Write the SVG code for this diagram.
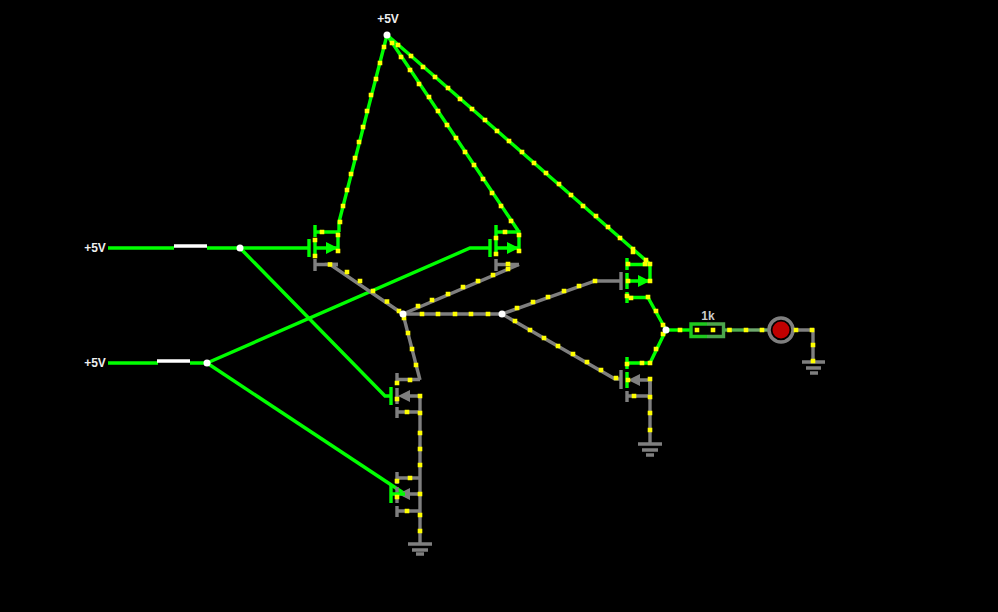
<svg xmlns="http://www.w3.org/2000/svg" width="998" height="612" viewBox="0 0 998 612">
<style>
text{font-family:"Liberation Sans",Arial,sans-serif;font-weight:bold;font-size:12px;fill:#eee;text-anchor:middle}
path,polyline,line{fill:none;stroke-width:3.4}
.g{stroke:#0f0}.k{stroke:#7f7f7f}.w{stroke:#fff}
.ag{fill:#0f0;stroke:none}.ak{fill:#7f7f7f;stroke:none}
.j{fill:#fff}
#dots{stroke:#ff0;stroke-width:4.600;stroke-linecap:square}
</style>
<rect width="998" height="612" fill="#000"/>
<g id="connectors">
<path class="g" d="M108 248H174M207 248H309"/>
<path class="g" d="M108 363H158M190 363H207"/>
<path class="g" d="M240 248L385 396H391"/>
<path class="g" d="M207 363L405 494"/>
<path class="g" d="M207 363L470 248H490"/>
<path class="g" d="M387 35L339 222V232"/>
<path class="g" d="M387 35L511 220L519 232"/>
<path class="g" d="M387 35L634 250L650 264"/>
<path class="k" d="M338 264.500H330L403 314"/>
<path class="k" d="M519 264.500L403 314"/>
<path class="k" d="M403 314H502"/>
<path class="k" d="M403 314L420 380"/>
<path class="k" d="M502 314L595 281H621"/>
<path class="k" d="M502 314L615 379H621"/>
<path class="g" d="M648 297.500L666 330L650 363"/>
<path class="g" d="M666 330H691"/>
<path stroke="#50b050" d="M723 330H746"/>
<path stroke="#6ea86e" d="M746 330H768"/>
<path class="k" d="M794 330H813V362"/>
<path class="k" d="M420 396V544"/>
<path class="k" d="M650 380V444"/>
</g>
<g id="vcc-top"><text x="388" y="23">+5V</text><circle class="j" cx="387" cy="35" r="3.500"/></g>
<g id="vcc-a"><text x="95" y="252">+5V</text></g>
<g id="vcc-b"><text x="95" y="367">+5V</text></g>
<g id="switch-a"><path class="w" d="M174 246H207"/></g>
<g id="switch-b"><path class="w" d="M157 361H190"/></g>
<g id="q1">
<path class="g" d="M309 239V257M315 225V237M315 240V256M315 232H338V248H315"/>
<path class="k" d="M315 259V271M315 264.500H338"/>
<polygon class="ag" points="338,248 326,242 326,254"/>
</g>
<g id="q2">
<path class="g" d="M490 239V257M496 225V237M496 240V256M496 232H519V248H496"/>
<path class="k" d="M496 259V271M496 264.500H519"/>
<polygon class="ag" points="519,248 507,242 507,254"/>
</g>
<g id="q3">
<path class="k" d="M621 272V290"/>
<path class="g" d="M627 258V270M627 273V289M627 292V303M627 264.500H650V281H627M627 297.500H648"/>
<polygon class="ag" points="650,281 638,275 638,287"/>
</g>
<g id="q4">
<path class="k" d="M621 370V389"/>
<path class="g" d="M627 357V369M627 372V388M627 363H650"/>
<path class="k" d="M627 391V402M627 396H650V380H635"/>
<polygon class="ak" points="628,380 640,374 640,386"/>
</g>
<g id="q5">
<path class="g" d="M391 387V405"/>
<path class="k" d="M397 373V385M397 388V404M397 407V418M397 379.500H420M397 412H420M420 396H405"/>
<polygon class="ak" points="398,396 410,390 410,402"/>
</g>
<g id="q6">
<path class="k" d="M397 472V484M397 487V503M397 506V517M397 478H420M397 511H420M420 494H405"/>
<polygon class="ak" points="398,494 410,488 410,500"/>
<path class="g" d="M391 485V503M391 494H405"/>
</g>
<g id="gnd-q"><path class="k" d="M408 544H432M412 550H428M416 554H424"/></g>
<g id="gnd-out"><path class="k" d="M638 444H662M642 450H658M646 455H654"/></g>
<g id="gnd-led"><path class="k" d="M802 362H825M806 368H821M810 373H818"/></g>
<g id="resistor">
<path stroke="#1ec81e" d="M707 324H691V336.500H707"/>
<path stroke="#4ca64c" d="M707 324H723.500V336.500H707"/>
<text x="708" y="320" style="fill:#ccc">1k</text>
</g>
<g id="led">
<circle cx="781" cy="330" r="12" fill="#000" stroke="#7f7f7f" stroke-width="3.500"/>
<circle cx="781" cy="330" r="8.500" fill="#c00000"/>
</g>
<g id="junctions">
<circle class="j" cx="240" cy="248" r="3.500"/>
<circle class="j" cx="207" cy="363" r="3.500"/>
</g>
<path id="dots" d="M384 47h0M380 63h0M376 79h0M371 95h0M367 111h0M363 127h0M359 142h0M355 158h0M351 174h0M347 190h0M343 206h0M340 222h0M338 235h0M338 251h0M322 232h0M315 240h0M315 256h0M330 264.500h0M347 272h0M360 281h0M373 291h0M387 301.500h0M399 311h0M404 318h0M508 264h0M508 269h0M493 275h0M478 281h0M463 287h0M448 294h0M432 300h0M418 306h0M422 314h0M438 314h0M455 314h0M471 314h0M488 314h0M517 308h0M533 302h0M548 297h0M564 291h0M579 286h0M595 281h0M515 321h0M530 330h0M544 338h0M558 346h0M573 354h0M587 362h0M601 370h0M616 378h0M628 264h0M645 264h0M650 264h0M646 260h0M633 252h0M628 281h0M650 281h0M627 296h0M631 298h0M648 297h0M656 311h0M663 325h0M663 334h0M656 349h0M650 363h0M642 363h0M627 364h0M628 380h0M650 379h0M650 397h0M634 396h0M650 413h0M650 430h0M680 330h0M697 330h0M713 330h0M729.500 330h0M746 330h0M762 330h0M796 330h0M812 330h0M813 345h0M813 361h0M398 45h0M411 56h0M423 67h0M435 77h0M448 88h0M460 99h0M472 109h0M485 120h0M497 131h0M509 141h0M522 152h0M534 163h0M546 173h0M559 184h0M571 195h0M583 206h0M596 216h0M608 227h0M620 238h0M633 249h0M392 43h0M401 57h0M410 70h0M419 84h0M429 97h0M438 111h0M447 125h0M456 138h0M465 152h0M474 165h0M483 179h0M492 193h0M501 206h0M511 221h0M519 235h0M519 251h0M505 232h0M496 238h0M496 254h0M408 333h0M412 349h0M416 365h0M410 380h0M397 383h0M397 399h0M420 396h0M420 413h0M407 412h0M420 433h0M420 449h0M420 465h0M410 478h0M397 481h0M397 497h0M420 494h0M420 515h0M420 531h0M407 511h0"/>
<g id="junctions-top">
<circle class="j" cx="403" cy="314" r="3.500"/>
<circle class="j" cx="502" cy="314" r="3.500"/>
<circle class="j" cx="666" cy="330" r="3.500"/>
</g>
</svg>
